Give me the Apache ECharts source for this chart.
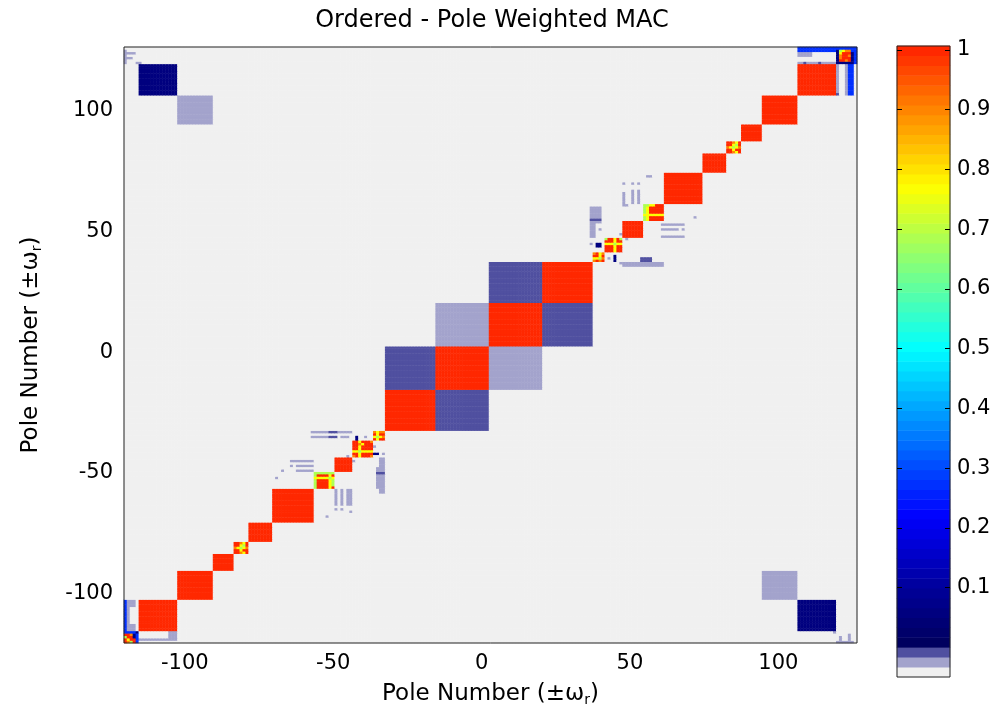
<!DOCTYPE html>
<html><head><meta charset="utf-8">
<script src="https://cdn.jsdelivr.net/npm/echarts@6/dist/echarts.min.js"></script>
<style>html,body{margin:0;padding:0;background:#fff}#c{width:1002px;height:714px}</style>
</head><body><div id="c"></div>
<script>
// ---------------- data ----------------
const POLE_FIRST = -120, POLE_LAST = 126;
const xTickLabels = [-100, -50, 0, 50, 100];
const yTickLabels = [-100, -50, 0, 50, 100];
const colorbarTicks = [0.1, 0.2, 0.3, 0.4, 0.5, 0.6, 0.7, 0.8, 0.9, 1];
const colorbarRange = [-0.0495, 1.0065];
const colorbarBands = 64;

// value classes
const BG = -0.04, LAV = -0.025, SLATE = -0.008, NAVY = 0.05, BLUE = 0.27, RED = 0.995;
const cellCodes = { '.': BG, L: LAV, S: SLATE, N: NAVY, B: BLUE, C: 0.5, g: 0.6, G: 0.68, Y: 0.77, O: 0.9, R: RED };

// first pole of each diagonal pole group
const groupStarts = [-120, -115, -102, -90, -83, -78, -70, -56, -49, -43, -36, -32, -15, 3, 21,
                     38, 42, 48, 55, 62, 75, 83, 88, 95, 107, 120];

// off-diagonal group blocks: [x group, y group, value]
const offBlocks = [
  [11, 12, SLATE], [12, 11, SLATE], [12, 13, LAV], [13, 12, LAV], [14, 13, SLATE], [13, 14, SLATE],
  [1, 24, NAVY], [2, 23, LAV], [23, 2, LAV], [24, 1, NAVY]
];

// diagonal groups with mixed values (rows: highest pole first)
const mixedBlocks = [
  [0, ['BBBBN', 'RRONB', 'GRRNB', 'RYRRB', 'ROGRB']],
  [4, ['RROYR', 'RRYGR', 'OYGYO', 'RRYRR', 'RROYR']],
  [7, ['GGGGGGG', 'GRRRRYR', 'YYYYYGY', 'GRRRRYG', 'GRRRRYG', 'GRRRRYG', 'GRRRRYR']],
  [9, ['RRYRRRO', 'RROYRRR', 'RRYRRRR', 'RRYRRRR', 'YYGYYYY', 'RRYRRRR', 'ORYRRRO']],
  [10, ['OYOO', 'RYRR', 'YGYO', 'RYRR']],
  [15, ['ORYO', 'RRYR', 'YYGO', 'OROR']],
  [16, ['GRRYRG', 'RRRYRR', 'YYYGYY', 'RRRYRR', 'RRRYRR', 'RRRYRR']],
  [18, ['GGYYRRR', 'GYRRRRR', 'GYRRRRR', 'GYRRRRR', 'YYYYYYY', 'GYRRRRR', 'GYRRRRR']],
  [21, ['RROYR', 'RRYGR', 'OYGYO', 'RRYRR', 'RROYR']],
  [25, ['BBBBBBB', 'NGYOOBB', 'NYRRRNB', 'NORRONB', 'NORRRNB', 'NRRORNB', 'NNNNNNB']]
];

// small off-diagonal patches: [x from, x to, y from, y to, value]
const patches = [
  // upper cluster
  [56, 57, 73, 73, LAV], [48, 48, 70, 70, LAV], [51, 51, 70, 70, LAV], [53, 53, 70, 70, LAV],
  [48, 48, 61, 66, LAV], [49, 49, 61, 61, LAV], [51, 51, 62, 67, LAV], [53, 53, 62, 67, LAV],
  [37, 38, 48, 60, LAV], [39, 40, 54, 60, LAV], [37, 40, 55, 55, SLATE], [40, 40, 51, 51, LAV],
  [61, 67, 53, 53, LAV], [61, 66, 51, 51, LAV], [61, 67, 48, 48, LAV],
  [68, 68, 53, 53, LAV], [68, 68, 51, 51, LAV], [68, 68, 48, 48, LAV], [72, 72, 56, 56, LAV],
  [48, 61, 36, 37, LAV], [54, 57, 38, 39, SLATE], [43, 43, 39, 39, LAV], [45, 45, 38, 40, NAVY],
  [47, 47, 37, 37, LAV], [37, 37, 45, 45, LAV], [39, 40, 44, 45, NAVY], [47, 47, 49, 49, LAV],
  [49, 49, 47, 47, LAV],
  // lower cluster
  [-57, -44, -33, -33, LAV], [-51, -49, -33, -33, SLATE],
  [-57, -52, -35, -35, LAV], [-51, -49, -35, -35, SLATE], [-47, -45, -35, -35, LAV],
  [-42, -42, -36, -35, NAVY], [-39, -39, -35, -35, LAV],
  [-36, -36, -39, -39, LAV], [-36, -35, -42, -42, NAVY], [-33, -33, -42, -42, LAV],
  [-34, -33, -58, -44, LAV], [-35, -35, -56, -48, LAV], [-35, -33, -50, -50, SLATE],
  [-64, -57, -45, -45, LAV], [-62, -57, -47, -47, LAV], [-62, -57, -49, -49, LAV],
  [-64, -64, -47, -47, LAV], [-67, -67, -49, -49, LAV], [-69, -69, -52, -52, LAV],
  [-49, -49, -63, -57, LAV], [-47, -47, -63, -57, LAV], [-45, -44, -63, -57, LAV],
  [-49, -49, -65, -65, LAV], [-47, -47, -65, -65, LAV], [-44, -44, -66, -66, LAV],
  [-52, -52, -68, -68, LAV], [-45, -45, -43, -43, LAV], [-43, -43, -45, -45, LAV],
  // top-right corner strips
  [107, 119, 125, 126, BLUE], [107, 111, 123, 124, LAV], [107, 119, 120, 120, LAV],
  [109, 109, 120, 120, SLATE], [114, 114, 120, 120, SLATE],
  [120, 120, 107, 119, LAV], [120, 120, 107, 107, SLATE], [123, 123, 107, 119, LAV], [124, 125, 107, 119, BLUE],
  // bottom-left corner strips
  [-120, -120, -115, -103, BLUE], [-119, -117, -115, -103, LAV], [-118, -117, -112, -106, BG],
  [-115, -103, -119, -119, LAV], [-105, -103, -118, -116, LAV],
  // far corners
  [-120, -117, 124, 124, LAV], [-120, -118, 122, 122, LAV], [-120, -120, 120, 125, LAV], [-116, -115, 120, 120, LAV],
  [120, 125, -120, -120, LAV], [121, 121, -119, -118, LAV], [124, 124, -119, -117, LAV], [119, 119, -116, -116, LAV]
];

// ---------------- build matrix ----------------
const poles = [];
for (let p = POLE_FIRST; p <= POLE_LAST; p++) poles.push(String(p));
const n = poles.length;
const M = Array.from({ length: n }, () => new Array(n).fill(BG)); // M[y][x]
function fill(x0, x1, y0, y1, v) {
  for (let y = y0; y <= y1; y++) for (let x = x0; x <= x1; x++) {
    const xi = x - POLE_FIRST, yi = y - POLE_FIRST;
    if (xi >= 0 && xi < n && yi >= 0 && yi < n) M[yi][xi] = v;
  }
}
const groups = groupStarts.map((s, g) => [s, g + 1 < groupStarts.length ? groupStarts[g + 1] - 1 : POLE_LAST]);
groups.forEach(([s, e]) => fill(s, e, s, e, RED));
offBlocks.forEach(([gx, gy, v]) => fill(groups[gx][0], groups[gx][1], groups[gy][0], groups[gy][1], v));
mixedBlocks.forEach(([g, rows]) => {
  const [s, e] = groups[g];
  rows.forEach((row, r) => {
    for (let c = 0; c < row.length; c++) fill(s + c, s + c, e - r, e - r, cellCodes[row[c]]);
  });
});
patches.forEach(p => fill(p[0], p[1], p[2], p[3], p[4]));

const heatData = [];
for (let yi = 0; yi < n; yi++) for (let xi = 0; xi < n; xi++) heatData.push([xi, yi, M[yi][xi]]);

// ---------------- colour map (64 discrete bands) ----------------
function hex(r, g, b) { return '#' + [r, g, b].map(v => Math.round(v).toString(16).padStart(2, '0')).join(''); }
const anchors = [[0, [0, 0, 0x5a]], [0.1, [0, 0, 0x9a]], [0.22, [0, 0, 255]], [0.5, [0, 255, 255]],
                 [0.77, [255, 255, 0]], [1.0065, [255, 0x20, 0]]];
function cmap(v) {
  if (v < -0.033) return '#f0f0f0';
  if (v < -0.0165) return '#a3a3cc';
  if (v < 0) return '#5050a0';
  for (let i = 0; i < anchors.length - 1; i++) {
    const [a, ca] = anchors[i], [b, cb] = anchors[i + 1];
    if (v <= b) { const t = (v - a) / (b - a); return hex(...ca.map((c, k) => c + (cb[k] - c) * t)); }
  }
  return hex(...anchors[anchors.length - 1][1]);
}
const bandStep = (colorbarRange[1] - colorbarRange[0]) / colorbarBands;
const pieces = [];
const bandLabels = [];
const colorbarData = [];
for (let i = 0; i < colorbarBands; i++) {
  const lo = colorbarRange[0] + i * bandStep, hi = lo + bandStep, mid = (lo + hi) / 2;
  pieces.push({ gte: i === 0 ? -10 : lo, lt: i === colorbarBands - 1 ? 10 : hi, color: cmap(mid) });
  bandLabels.push(String(i));
  colorbarData.push([0, i, mid]);
}

// ---------------- chart ----------------
const FONT = 'DejaVu Sans';
const tickStyle = { show: true, inside: true, length: 5, customValues: colorbarTicks, lineStyle: { color: '#000', width: 1 } };
const nameStyle = { fontSize: 23, color: '#000', fontFamily: FONT,
  rich: { s: { fontSize: 14, color: '#000', fontFamily: FONT, padding: [12, 0, 0, 0] } } };
const chart = echarts.init(document.getElementById('c'), null, { renderer: 'canvas' });
chart.setOption({
  animation: false,
  backgroundColor: '#ffffff',
  textStyle: { fontFamily: FONT },
  title: {
    text: 'Ordered - Pole Weighted MAC', left: 487, top: 4, textAlign: 'center',
    textStyle: { fontFamily: FONT, fontSize: 24, fontWeight: 'normal', color: '#000' }
  },
  grid: [
    { left: 124, top: 47, width: 733, height: 596, show: true, z: 10, backgroundColor: 'transparent', borderColor: '#222', borderWidth: 1 },
    { left: 897, top: 46, width: 53, height: 631, show: true, z: 10, backgroundColor: 'transparent', borderColor: '#222', borderWidth: 1 }
  ],
  xAxis: [
    {
      gridIndex: 0, type: 'category', data: poles, boundaryGap: true,
      axisLine: { show: false }, axisTick: { show: false }, splitLine: { show: false },
      axisLabel: { interval: (i, v) => xTickLabels.includes(Number(v)), margin: 10, fontSize: 21, color: '#000', fontFamily: FONT },
      name: 'Pole Number (±ω{s|r})', nameLocation: 'middle', nameGap: 38, nameTextStyle: nameStyle
    },
    { gridIndex: 1, type: 'category', data: ['0'], show: false, boundaryGap: true }
  ],
  yAxis: [
    {
      gridIndex: 0, type: 'category', data: poles, boundaryGap: true,
      axisLine: { show: false }, axisTick: { show: false }, splitLine: { show: false },
      axisLabel: { interval: (i, v) => yTickLabels.includes(Number(v)), margin: 11, fontSize: 21, color: '#000', fontFamily: FONT },
      name: 'Pole Number (±ω{s|r})', nameLocation: 'middle', nameGap: 80, nameTextStyle: nameStyle
    },
    { gridIndex: 1, type: 'category', data: bandLabels, show: false, position: 'left', boundaryGap: true },
    {
      gridIndex: 1, type: 'value', min: colorbarRange[0], max: colorbarRange[1], position: 'right', z: 10,
      axisLine: { show: false }, splitLine: { show: false }, axisTick: tickStyle,
      axisLabel: { customValues: colorbarTicks, margin: 7, fontSize: 21, color: '#000', fontFamily: FONT,
                   formatter: v => String(Math.round(v * 10) / 10) }
    },
    {
      gridIndex: 1, type: 'value', min: colorbarRange[0], max: colorbarRange[1], position: 'left', z: 10,
      axisLine: { show: false }, splitLine: { show: false }, axisTick: tickStyle, axisLabel: { show: false }
    }
  ],
  visualMap: {
    type: 'piecewise', show: false, seriesIndex: [0, 1], dimension: 2, pieces: pieces
  },
  series: [
    { type: 'heatmap', xAxisIndex: 0, yAxisIndex: 0, data: heatData,
      progressive: 0, emphasis: { disabled: true }, silent: true },
    { type: 'heatmap', xAxisIndex: 1, yAxisIndex: 1, data: colorbarData,
      progressive: 0, emphasis: { disabled: true }, silent: true }
  ]
});
</script></body></html>
